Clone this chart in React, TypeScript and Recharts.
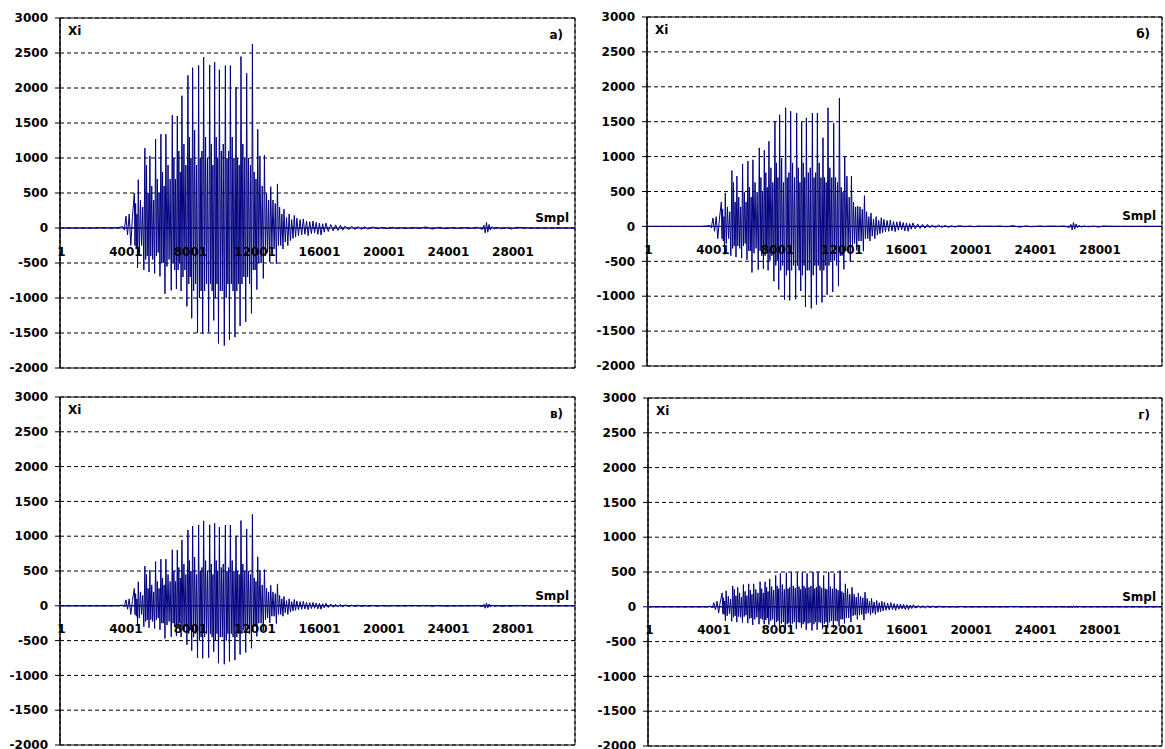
import {
  LineChart,
  Line,
  XAxis,
  YAxis,
  CartesianGrid,
  ReferenceLine,
  ReferenceDot,
  ReferenceArea,
  Label,
} from "recharts";

// sample numbers (x categories), shared by the four panels
const sampleNo = [
  1, 900, 1800, 2600, 3200, 3600, 3800, 3900, 4000, 4100, 4200, 4300, 4400,
  4520, 4560, 4600, 4640, 4680, 4720,
  4764, 4830, 4900, 4970, 5040, 5110,
  5174, 5225, 5275, 5325, 5375, 5430,
  5484, 5540, 5600, 5660, 5720, 5780,
  5838, 5890, 5945, 6000, 6055, 6110,
  6168, 6220, 6270, 6320, 6370, 6420,
  6478, 6545, 6610, 6675, 6740, 6810,
  6875, 6925, 6975, 7025, 7075, 7130,
  7186, 7235, 7280, 7325, 7370, 7420,
  7472, 7535, 7595, 7655, 7715, 7780,
  7845, 7895, 7940, 7985, 8030, 8080,
  8136, 8200, 8260, 8320, 8380, 8440,
  8508, 8560, 8610, 8660, 8710, 8760,
  8819, 8880, 8940, 9000, 9060, 9130,
  9192, 9245, 9295, 9345, 9395, 9445,
  9502, 9550, 9600, 9645, 9690, 9740,
  9794, 9855, 9915, 9975, 10035, 10100,
  10167, 10220, 10270, 10320, 10370, 10420,
  10477, 10535, 10590, 10645, 10700, 10760,
  10825, 10875, 10925, 10975, 11025, 11080,
  11135, 11195, 11250, 11310, 11370, 11430,
  11489, 11545, 11605, 11665, 11725, 11785,
  11843, 11900, 11955, 12010, 12065, 12120,
  12173, 12240, 12310, 12380, 12450, 12520,
  12589, 12655, 12720, 12785, 12850, 12920,
  12980, 13050, 13120, 13190, 13260, 13330,
  13396, 13460, 13530, 13600, 13670, 13740,
  13800, 13880, 13960, 14040, 14120, 14200, 14280, 14360, 14440, 14520,
  14600, 14700, 14800, 14900, 15000, 15100, 15200, 15300, 15400, 15500,
  15600, 15700, 15800, 15900, 16000, 16100, 16200, 16300, 16400, 16550,
  16700, 16850, 17000, 17150, 17300, 17450, 17600, 17800, 18000, 18200,
  18400, 18600, 18800, 19000, 19300, 19600, 19900, 20200, 20500, 20800,
  21100, 21400, 21800, 22200, 22600, 23000, 23400, 23800, 24200, 24600,
  25000, 25400, 25800, 26100, 26200, 26280, 26360, 26440, 26520, 26600,
  26700, 26850, 27000, 27300, 27600, 27900, 28200, 29000, 30000, 31000,
  31800,
];

// а)
const xiA = [
  0, 0, 0, 5, 0, 10, 20, -30, 170, -100, 200, -250, 150,
  500, -250, 350, -300, 200, -570,
  690, -350, 400, -250, 300, -600,
  1140, -450, 900, -400, 500, -630,
  1030, -400, 600, -450, 400, -650,
  1270, -400, 700, -350, 500, -690,
  1340, -500, 800, -500, 600, -940,
  1340, -550, 900, -450, 700, -890,
  1610, -500, 1000, -600, 700, -870,
  1600, -600, 1100, -500, 800, -900,
  1890, -700, 1200, -600, 900, -1120,
  2180, -800, 1300, -700, 1000, -1290,
  2290, -900, 1400, -800, 900, -1500,
  2320, -1000, 1000, -900, 1100, -1510,
  2440, -900, 1300, -800, 1000, -1490,
  2330, -800, 1200, -900, 900, -1320,
  2370, -1000, 1300, -800, 1000, -1650,
  2260, -900, 1100, -900, 1200, -1680,
  2320, -1000, 1000, -800, 1100, -1600,
  2320, -800, 1300, -900, 1000, -1560,
  2010, -900, 1000, -800, 900, -1400,
  2450, -800, 1200, -700, 1000, -1340,
  2210, -700, 1000, -800, 900, -1220,
  2630, -600, 800, -600, 700, -880,
  1410, -500, 1030, -500, 600, -720,
  1040, -400, 500, -350, 400, -490,
  590, -300, 400, -300, 350, -510,
  630, -250, 300, -250, 200, -300,
  270, -200, 150, -250, 200, -180, 120, -150, 180, -130,
  140, -110, 120, -100, 130, -90, 100, -110, 90, -80,
  100, -70, 80, -90, 70, -100, 60, -60, 70, -50,
  50, -40, 45, -35, 40, -30, 30, -25, 25, -20,
  20, -20, 15, -15, 15, -10, 10, -10, 10, -5,
  5, -5, 5, -5, 15, -15, 10, -10, 5, -5,
  5, -5, 10, -20, 40, -70, 80, -60, 50, -30,
  20, -15, 10, -10, 5, -15, 10, 0, 0, 0,
  0,
];

// б)
const xiB = [
  0, 0, 0, 0, 0, 5, 15, -20, 120, -70, 140, -175, 105,
  350, -175, 245, -210, 140, -400,
  480, -245, 280, -175, 210, -420,
  800, -315, 630, -280, 350, -440,
  720, -280, 420, -315, 280, -455,
  895, -280, 490, -245, 350, -480,
  935, -350, 560, -350, 420, -660,
  955, -385, 630, -315, 490, -620,
  1125, -350, 700, -420, 490, -610,
  1090, -420, 770, -350, 560, -630,
  1220, -490, 840, -420, 630, -785,
  1505, -560, 910, -490, 700, -905,
  1600, -630, 980, -560, 630, -1050,
  1700, -700, 700, -630, 770, -1060,
  1650, -630, 910, -560, 700, -1045,
  1625, -560, 840, -630, 630, -925,
  1495, -700, 910, -560, 700, -1155,
  1555, -630, 770, -630, 840, -1175,
  1625, -700, 700, -560, 770, -1120,
  1625, -560, 910, -630, 700, -1090,
  1270, -630, 700, -560, 630, -980,
  1700, -560, 840, -490, 700, -940,
  1480, -490, 700, -560, 630, -855,
  1840, -420, 560, -420, 490, -615,
  1005, -350, 720, -350, 420, -505,
  720, -280, 350, -245, 280, -345,
  290, -210, 280, -210, 245, -355,
  440, -175, 210, -175, 140, -210,
  190, -140, 105, -175, 140, -125, 85, -105, 125, -90,
  100, -75, 85, -70, 90, -65, 70, -75, 65, -55,
  70, -50, 55, -65, 50, -70, 40, -40, 50, -35,
  35, -30, 30, -25, 30, -20, 20, -20, 20, -15,
  15, -15, 10, -10, 10, -5, 5, -5, 5, 0,
  5, 0, 5, -5, 10, -10, 5, -5, 5, 0,
  5, 0, 5, -15, 30, -50, 55, -40, 35, -20,
  15, -10, 5, -5, 5, -10, 5, 0, 0, 0,
  0,
];

// в)
const xiC = [
  0, 0, 0, 0, 0, 5, 10, -15, 85, -50, 100, -125, 75,
  250, -125, 175, -150, 100, -285,
  345, -175, 200, -125, 150, -300,
  570, -225, 450, -200, 250, -315,
  515, -200, 300, -225, 200, -325,
  635, -200, 350, -175, 250, -345,
  670, -250, 400, -250, 300, -470,
  670, -275, 450, -225, 350, -445,
  805, -250, 500, -300, 350, -435,
  800, -300, 550, -250, 400, -450,
  945, -350, 600, -300, 450, -560,
  1090, -400, 650, -350, 500, -645,
  1145, -450, 700, -400, 450, -750,
  1160, -500, 500, -450, 550, -755,
  1220, -450, 650, -400, 500, -745,
  1165, -400, 600, -450, 450, -660,
  1185, -500, 650, -400, 500, -825,
  1130, -450, 550, -450, 600, -840,
  1160, -500, 500, -400, 550, -800,
  1160, -400, 650, -450, 500, -780,
  1005, -450, 500, -400, 450, -700,
  1225, -400, 600, -350, 500, -670,
  1105, -350, 500, -400, 450, -610,
  1315, -300, 400, -300, 350, -440,
  705, -250, 515, -250, 300, -360,
  520, -200, 250, -175, 200, -245,
  295, -150, 200, -150, 175, -255,
  315, -125, 150, -125, 100, -150,
  135, -100, 75, -125, 100, -90, 60, -75, 90, -65,
  70, -55, 60, -50, 65, -45, 50, -55, 45, -40,
  50, -35, 40, -45, 35, -50, 30, -30, 35, -25,
  25, -20, 20, -15, 20, -15, 15, -10, 10, -10,
  10, -10, 5, -5, 5, -5, 5, -5, 5, 0,
  0, 0, 5, 0, 5, -5, 5, -5, 0, 0,
  0, 0, 5, -10, 20, -35, 40, -30, 25, -15,
  10, -5, 5, -5, 0, -5, 5, 0, 0, 0,
  0,
];

// г)
const xiD = [
  0, 0, 0, 0, 0, 0, 10, -15, 60, -40, 80, -90, 70,
  200, -100, 130, -110, 80, -200,
  230, -130, 150, -100, 110, -210,
  300, -150, 250, -130, 160, -220,
  280, -140, 200, -150, 140, -225,
  320, -140, 220, -120, 160, -235,
  330, -170, 240, -160, 180, -260,
  330, -180, 250, -150, 200, -250,
  360, -170, 260, -180, 200, -250,
  360, -190, 280, -160, 220, -255,
  400, -200, 290, -180, 240, -280,
  450, -220, 300, -200, 260, -300,
  480, -240, 320, -220, 250, -320,
  490, -250, 260, -230, 280, -320,
  500, -240, 300, -220, 270, -320,
  490, -220, 290, -230, 250, -300,
  500, -250, 300, -220, 270, -330,
  480, -240, 280, -230, 300, -340,
  500, -250, 260, -220, 280, -330,
  500, -220, 300, -230, 270, -320,
  450, -240, 260, -220, 250, -300,
  500, -220, 290, -200, 260, -300,
  480, -200, 260, -210, 240, -280,
  520, -180, 220, -180, 200, -240,
  330, -160, 260, -160, 180, -220,
  280, -130, 180, -120, 140, -180,
  200, -120, 150, -110, 130, -190,
  210, -100, 120, -90, 80, -120,
  120, -90, 70, -110, 90, -80, 60, -70, 80, -60,
  65, -50, 55, -45, 60, -40, 45, -50, 40, -35,
  40, -30, 35, -40, 30, -40, 25, -25, 30, -20,
  20, -15, 15, -15, 15, -10, 10, -10, 10, -5,
  5, -5, 5, -5, 5, 0, 0, 0, 0, 0,
  0, 0, 0, 0, 5, 0, 0, 0, 0, 0,
  0, 0, 0, -5, 10, -15, 15, -10, 10, -5,
  5, 0, 0, 0, 0, 0, 0, 0, 0, 0,
  0,
];

const xTicks = [1, 4001, 8001, 12001, 16001, 20001, 24001, 28001];
const yTicks = [-2000, -1500, -1000, -500, 0, 500, 1000, 1500, 2000, 2500, 3000];
const X_MIN = -90;
const X_MAX = 31850;

const rows = sampleNo.map((s, i) => ({
  s,
  a: xiA[i],
  b: xiB[i],
  c: xiC[i],
  d: xiD[i],
}));

const txt = {
  fill: "#000",
  fontSize: 12,
  fontWeight: "bold",
  fontFamily: "'DejaVu Sans', sans-serif",
};

interface PanelProps {
  dataKey: string;
  tag: string;
  left: number; // plot area, page px
  top: number;
  right: number;
  bottom: number;
}

function Panel({ dataKey, tag, left, top, right, bottom }: PanelProps) {
  const chartLeft = left - 60;
  const chartTop = top - 10;
  const w = right - chartLeft + 3;
  const h = bottom - chartTop + 10;
  return (
    <div style={{ position: "absolute", left: chartLeft, top: chartTop }}>
      <LineChart
        width={w}
        height={h}
        data={rows}
        margin={{ top: 10, right: 3, bottom: 10, left: 10 }}
      >
        <CartesianGrid vertical={false} stroke="#000" strokeDasharray="4 3" />
        <CartesianGrid horizontal={false} stroke="#000" strokeDasharray="3 3" />
        <XAxis
          type="number"
          dataKey="s"
          domain={[X_MIN, X_MAX]}
          ticks={xTicks}
          tick={false}
          tickLine={false}
          axisLine={false}
          height={0}
          allowDataOverflow
        />
        <YAxis
          type="number"
          domain={[-2000, 3000]}
          ticks={yTicks}
          interval={0}
          width={50}
          tickSize={5}
          tickMargin={7}
          axisLine={{ stroke: "#000" }}
          tickLine={{ stroke: "#000" }}
          tick={txt}
          allowDataOverflow
        />
        <ReferenceArea
          x1={X_MIN}
          x2={X_MAX}
          y1={-2000}
          y2={3000}
          fill="none"
          stroke="#000"
          strokeOpacity={1}
          ifOverflow="visible"
        />
        <Line
          type="linear"
          dataKey={dataKey}
          stroke="#000080"
          strokeWidth={1}
          dot={false}
          isAnimationActive={false}
        />
        <ReferenceLine y={0} stroke="#000080">
          <Label value="Smpl" position="insideBottomRight" offset={6} {...txt} />
        </ReferenceLine>
        <ReferenceLine y={3000} stroke="none">
          <Label value="Xi" position="insideTopLeft" offset={8} {...txt} />
          <Label value={tag} position="insideTopRight" offset={12} {...txt} />
        </ReferenceLine>
        {xTicks.map((t) => (
          <ReferenceDot
            key={t}
            x={t}
            y={0}
            r={0}
            fill="none"
            stroke="none"
            label={{ value: String(t), position: "bottom", offset: 19, ...txt }}
          />
        ))}
      </LineChart>
    </div>
  );
}

export default function App() {
  return (
    <div
      style={{
        position: "absolute",
        left: 0,
        top: 0,
        width: 1165,
        height: 749,
        background: "#fff",
        overflow: "hidden",
      }}
    >
      <Panel dataKey="a" tag="а)" left={60} top={18} right={575} bottom={368} />
      <Panel dataKey="b" tag="б)" left={647} top={17} right={1162} bottom={366} />
      <Panel dataKey="c" tag="в)" left={60} top={397} right={575} bottom={745} />
      <Panel dataKey="d" tag="г)" left={648} top={398} right={1162} bottom={746} />
    </div>
  );
}
